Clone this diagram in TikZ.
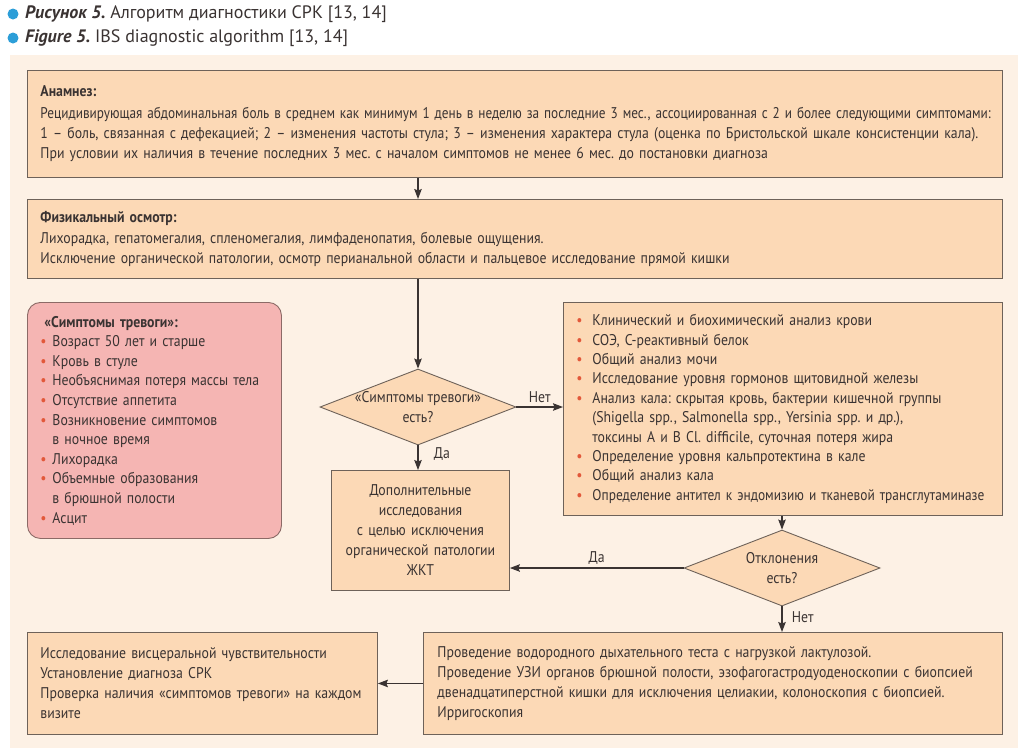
\documentclass[tikz,border=0pt]{standalone}
\usepackage{graphicx}
\usepackage{fontspec}
\setmainfont[FakeStretch=0.89]{PT Sans}
\newfontfamily\capfont{PT Sans}
\usetikzlibrary{shapes.geometric,arrows.meta,positioning}
\definecolor{panel}{HTML}{FDF1E5}
\definecolor{peach}{HTML}{FCD9B6}
\definecolor{rim}{HTML}{6E6259}
\definecolor{alarmfill}{HTML}{F5B5B3}
\definecolor{alarmrim}{HTML}{8C6A66}
\definecolor{dotred}{HTML}{E2583A}
\definecolor{capblue}{HTML}{2C9ED8}
\definecolor{ink}{HTML}{3A3332}
\frenchspacing
\newcommand{\dotitem}[1][13pt]{\makebox[#1][l]{\hspace{1pt}\textcolor{dotred}{\textbullet}}}
\newcommand{\dotgap}[1][13pt]{\hspace*{#1}}
\tikzset{
    captext/.style={anchor=west,inner sep=0pt,text=ink,font=\capfont\fontsize{18}{20}\selectfont},
    box/.style={draw=rim,fill=peach,line width=0.9pt,inner xsep=13pt,inner ysep=0pt,
        anchor=north west,align=left,text=ink,font=\fontsize{15.5}{20}\selectfont},
    alarm/.style={box,draw=alarmrim,fill=alarmfill,rounded corners=13pt,inner xsep=12pt},
    ask/.style={diamond,aspect=2.6,draw=rim,fill=peach,line width=0.9pt,minimum width=196pt,
        minimum height=76pt,inner sep=-12pt,align=center,text=ink,font=\fontsize{15.5}{20}\selectfont},
    flow/.style={->,line width=1.1pt,draw=ink},
    tag/.style={text=ink,font=\fontsize{15.5}{18}\selectfont}
}
\begin{document}
\begin{tikzpicture}[x=1pt,y=-1pt,>={Stealth[length=10pt,width=7.5pt,inset=1.5pt]}]
    \useasboundingbox (0,0) rectangle (1024,753);
    \begin{scope}
        \fill[capblue] (13,14) circle[radius=5.5pt];
        \fill[capblue] (13,38) circle[radius=5.5pt];
        \node[captext] (ru) at (25,14) {\textbf{\textit{Рисунок 5.}} Алгоритм диагностики СРК [13, 14]};
        \node[captext] (en) at (25,38) {\textbf{\textit{Figure 5.}} IBS diagnostic algorithm [13, 14]};
    \end{scope}
    \fill[panel] (10,55) rectangle (1018,748);
    \node[box,minimum width=975pt,minimum height=107pt,text width=949pt] (anam) at (27,70)
        {\textbf{Анамнез:}\\[2pt]
         \scalebox{0.96}[1]{Рецидивирующая абдоминальная боль в среднем как минимум 1 день в неделю за последние 3 мес., ассоциированная с 2 и более следующими симптомами:}\\
         1 – боль, связанная с дефекацией; 2 – изменения частоты стула; 3 – изменения характера стула (оценка по Бристольской шкале консистенции кала).\\
         При условии их наличия в течение последних 3 мес. с началом симптомов не менее 6 мес. до постановки диагноза};
    \node[box,minimum width=975pt,minimum height=79pt,text width=949pt] (phys) at (27,199)
        {\textbf{Физикальный осмотр:}\\[1pt]
         Лихорадка, гепатомегалия, спленомегалия, лимфаденопатия, болевые ощущения.\\
         Исключение органической патологии, осмотр перианальной области и пальцевое исследование прямой кишки};
    \node[alarm,minimum width=254pt,minimum height=236pt,text width=230pt,
        font=\fontsize{15.5}{19.6}\selectfont] (alarm) at (27,302)
        {\hspace*{5pt}\textbf{«Симптомы тревоги»:}\\
         \dotitem Возраст 50 лет и старше\\
         \dotitem Кровь в стуле\\
         \dotitem Необъяснимая потеря массы тела\\
         \dotitem Отсутствие аппетита\\
         \dotitem Возникновение симптомов\\
         \dotgap в ночное время\\
         \dotitem Лихорадка\\
         \dotitem Объемные образования\\
         \dotgap в брюшной полости\\
         \dotitem Асцит};
    \node[box,minimum width=439pt,minimum height=213pt,text width=415pt,inner xsep=12pt,
        font=\fontsize{15.5}{19.4}\selectfont] (tests) at (563,302)
        {\dotitem[17pt]Клинический и биохимический анализ крови\\
         \dotitem[17pt]СОЭ, С-реактивный белок\\
         \dotitem[17pt]Общий анализ мочи\\
         \dotitem[17pt]Исследование уровня гормонов щитовидной железы\\
         \dotitem[17pt]Анализ кала: скрытая кровь, бактерии кишечной группы\\
         \dotgap[17pt](Shigella spp., Salmonella spp., Yersinia spp. и др.),\\
         \dotgap[17pt]токсины A и B Cl. difficile, суточная потеря жира\\
         \dotitem[17pt]Определение уровня кальпротектина в кале\\
         \dotitem[17pt]Общий анализ кала\\
         \mbox{\dotitem[17pt]\scalebox{0.97}[1]{Определение антител к эндомизию и тканевой трансглутаминазе}}};
    \node[ask] (q1) at (418,407) {«Симптомы тревоги»\\есть?};
    \node[box,minimum width=178pt,minimum height=120pt,text width=152pt,align=center] (extra) at (331,470)
        {Дополнительные\\исследования\\с целью исключения\\органической патологии\\ЖКТ};
    \node[ask] (q2) at (782,568) {Отклонения\\есть?};
    \node[box,minimum width=350pt,minimum height=102pt,text width=324pt] (final) at (27,632)
        {Исследование висцеральной чувствительности\\
         Установление диагноза СРК\\
         Проверка наличия «симптомов тревоги» на каждом\\
         визите};
    \node[box,minimum width=579pt,minimum height=102pt,text width=551pt,inner xsep=14pt] (last) at (423,632)
        {Проведение водородного дыхательного теста с нагрузкой лактулозой.\\
         Проведение УЗИ органов брюшной полости, эзофагогастродуоденоскопии с биопсией\\
         двенадцатиперстной кишки для исключения целиакии, колоноскопия с биопсией.\\
         Ирригоскопия};
    \draw[flow] (anam.south -| q1) -- (phys.north -| q1);
    \draw[flow] (phys.south -| q1) -- (q1.north);
    \draw[flow] (q1.east) -- (tests.west |- q1) node[tag,midway,above]{Нет};
    \draw[flow] (q1.south) -- (q1.south |- extra.north) node[tag,pos=0.35,right=12pt]{Да};
    \draw[flow] (tests.south -| q2) -- (q2.north);
    \draw[flow] (q2.west) -- (extra.east |- q2) node[tag,midway,above]{Да};
    \draw[flow] (q2.south) -- (q2.south |- last.north) node[tag,pos=0.4,right=6pt]{Нет};
    \draw[flow] (last.west) -- (final.east);
\end{tikzpicture}
\end{document}
